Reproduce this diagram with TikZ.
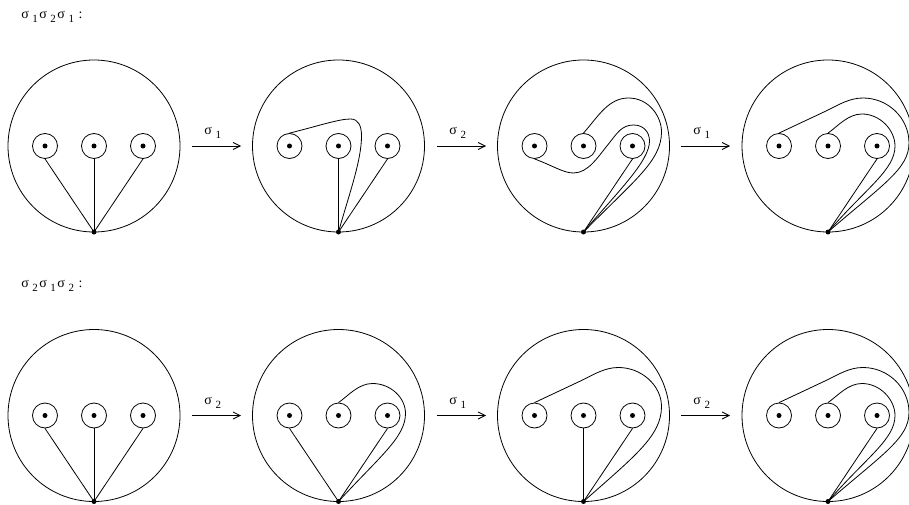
\documentclass[tikz,border=0pt]{standalone}
\usepackage{fontspec}
\setmainfont{Liberation Serif}
\usetikzlibrary{arrows.meta}

\newcommand\ind[1]{\kern3.5pt\raisebox{-4pt}{\fontsize{11}{13}\selectfont #1}\kern1.5pt}

% disc with three punctures and the base point
\newcommand\disco[3]{
    \node[borde] (#1) at (#2,#3) {};
    \node[pozo] (#1a) at (#2-49,#3) {};
    \node[pozo] (#1b) at (#2,#3) {};
    \node[pozo] (#1c) at (#2+49,#3) {};
    \node[punto] (#1ap) at (#2-49,#3) {};
    \node[punto] (#1bp) at (#2,#3) {};
    \node[punto] (#1cp) at (#2+49,#3) {};
    \node[punto] (#1o) at (#2,#3+86) {};
}

% last disc of each row
\newcommand\final[3]{
    \disco{#1}{#2}{#3}
    \begin{scope}[shift={(#2,#3)}]
        \draw[hebra] (#1o.center) -- (#1c.south);
        \draw[hebra] (#1b.north) .. controls (10,-20) and (20,-32) .. (34,-32)
            .. controls (52,-32) and (67,-16) .. (67,0)
            .. controls (67,24) and (38,42) .. (#1o.center);
        \draw[hebra] (#1a.north) -- (-2,-35) .. controls (12,-42) and (22,-48) .. (35,-48)
            .. controls (60,-48) and (81,-28) .. (81,-3)
            .. controls (81,23) and (54,39) .. (#1o.center);
    \end{scope}
}

\begin{document}
\begin{tikzpicture}[
        x=1pt, y=-1pt,
        borde/.style={draw, circle, inner sep=0pt, minimum size=172pt},
        pozo/.style={draw, circle, inner sep=0pt, minimum size=25pt},
        punto/.style={circle, fill=black, inner sep=0pt, minimum size=5pt},
        hebra/.style={line width=0.8pt},
        flecha/.style={-{Straight Barb[length=7pt,width=7pt]}, line width=0.8pt},
        etiqueta/.style={font=\fontsize{14}{16}\selectfont, inner sep=0pt}
    ]
    \clip (0,0) rectangle (909,505);
    \tikzset{every path/.append style={line width=0.8pt}}

    \node[etiqueta, anchor=west] (titulo1) at (21,16.5) {σ\ind{1}σ\ind{2}σ\ind{1} \kern3pt:};
    \node[etiqueta, anchor=west] (titulo2) at (21,285.5) {σ\ind{2}σ\ind{1}σ\ind{2} \kern3pt:};

    % top row
    \disco{p1}{94}{146}
    \draw[hebra] (p1o.center) -- (p1a.south);
    \draw[hebra] (p1o.center) -- (p1b.south);
    \draw[hebra] (p1o.center) -- (p1c.south);

    \disco{p2}{338.5}{146}
    \begin{scope}[shift={(338.5,146)}]
        \draw[hebra] (p2o.center) -- (p2b.south);
        \draw[hebra] (p2o.center) -- (p2c.south);
        \draw[hebra] (p2a.north) .. controls (-20,-20) and (0,-27) .. (12,-27)
            .. controls (20,-27) and (23,-20) .. (23,-10)
            .. controls (23,15) and (10,50) .. (p2o.center);
    \end{scope}

    \disco{p3}{583.5}{146}
    \begin{scope}[shift={(583.5,146)}]
        \draw[hebra] (p3o.center) -- (p3c.south);
        \draw[hebra] (p3b.north) .. controls (15,-30) and (25,-48) .. (45,-48)
            .. controls (65,-48) and (78,-30) .. (78,-14)
            .. controls (78,15) and (50,35) .. (p3o.center);
        \draw[hebra] (p3a.south) .. controls (-30,20) and (-20,27) .. (-10,27)
            .. controls (5,27) and (15,10) .. (25,-2)
            .. controls (33,-12) and (38,-21) .. (50,-21)
            .. controls (60,-21) and (66,-14) .. (66,-5)
            .. controls (66,15) and (35,45) .. (p3o.center);
    \end{scope}

    \final{p4}{828}{146}

    % bottom row
    \disco{q1}{94}{415.5}
    \draw[hebra] (q1o.center) -- (q1a.south);
    \draw[hebra] (q1o.center) -- (q1b.south);
    \draw[hebra] (q1o.center) -- (q1c.south);

    \disco{q2}{338.5}{415.5}
    \begin{scope}[shift={(338.5,415.5)}]
        \draw[hebra] (q2o.center) -- (q2a.south);
        \draw[hebra] (q2o.center) -- (q2c.south);
        \draw[hebra] (q2b.north) .. controls (10,-20) and (20,-32) .. (34,-32)
            .. controls (52,-32) and (67,-18) .. (67,-2)
            .. controls (67,22) and (40,42) .. (q2o.center);
    \end{scope}

    \disco{q3}{583.5}{415.5}
    \begin{scope}[shift={(583.5,415.5)}]
        \draw[hebra] (q3o.center) -- (q3b.south);
        \draw[hebra] (q3o.center) -- (q3c.south);
        \draw[hebra] (q3a.north) -- (-2,-35) .. controls (12,-42) and (22,-48) .. (35,-48)
            .. controls (58,-48) and (78,-30) .. (78,-9)
            .. controls (78,20) and (52,40) .. (q3o.center);
    \end{scope}

    \final{q4}{828}{415.5}

    % arrows
    \coordinate (s1) at (192,146);   \coordinate (e1) at (241,146);
    \coordinate (s2) at (437,146);   \coordinate (e2) at (486,146);
    \coordinate (s3) at (681,146);   \coordinate (e3) at (730,146);
    \coordinate (t1) at (192,415.5); \coordinate (u1) at (241,415.5);
    \coordinate (t2) at (437,415.5); \coordinate (u2) at (486,415.5);
    \coordinate (t3) at (681,415.5); \coordinate (u3) at (730,415.5);

    \draw[flecha] (s1) -- (e1) node[midway, above=7pt, xshift=-3pt, etiqueta] (l1) {σ\ind{1}};
    \draw[flecha] (s2) -- (e2) node[midway, above=7pt, xshift=-3pt, etiqueta] (l2) {σ\ind{2}};
    \draw[flecha] (s3) -- (e3) node[midway, above=7pt, xshift=-3pt, etiqueta] (l3) {σ\ind{1}};
    \draw[flecha] (t1) -- (u1) node[midway, above=7pt, xshift=-3pt, etiqueta] (m1) {σ\ind{2}};
    \draw[flecha] (t2) -- (u2) node[midway, above=7pt, xshift=-3pt, etiqueta] (m2) {σ\ind{1}};
    \draw[flecha] (t3) -- (u3) node[midway, above=7pt, xshift=-3pt, etiqueta] (m3) {σ\ind{2}};
\end{tikzpicture}
\end{document}
